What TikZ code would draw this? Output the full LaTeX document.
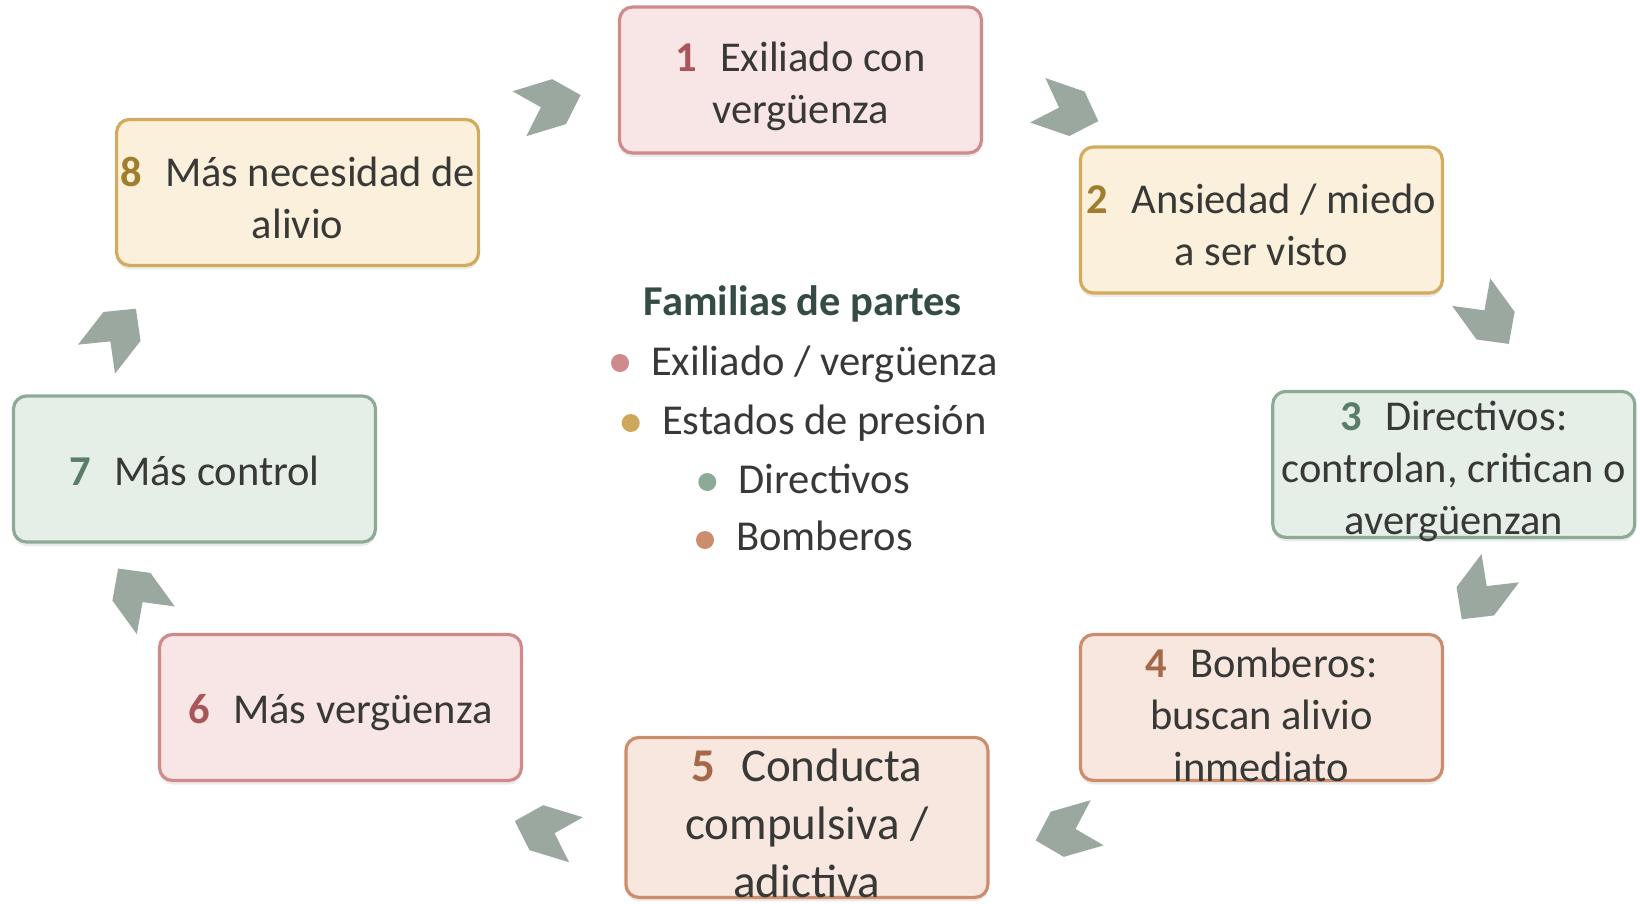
\documentclass[tikz,border=0pt]{standalone}
\usepackage{fontspec}
\setmainfont{Carlito}
\usetikzlibrary{shadows}
\definecolor{pinkF}{HTML}{F8E5E6}
\definecolor{pinkB}{HTML}{D08A8C}
\definecolor{pinkN}{HTML}{A95658}
\definecolor{yelF}{HTML}{FAF0DC}
\definecolor{yelB}{HTML}{D4AB5C}
\definecolor{yelN}{HTML}{A07E2E}
\definecolor{grnF}{HTML}{E5EFE8}
\definecolor{grnB}{HTML}{8DAA96}
\definecolor{grnN}{HTML}{5A7D66}
\definecolor{orgF}{HTML}{F7E7DF}
\definecolor{orgB}{HTML}{CC8D6C}
\definecolor{orgN}{HTML}{A5694A}
\definecolor{arrowC}{HTML}{9AA89F}
\definecolor{txtC}{HTML}{383936}
\definecolor{titleC}{HTML}{354B45}
\definecolor{dotP}{HTML}{D08A8C}
\definecolor{dotY}{HTML}{CDA85A}
\definecolor{dotG}{HTML}{8DAA96}
\definecolor{dotO}{HTML}{CC8D6C}
\newcommand\bnum[2]{{\bfseries\color{#1}#2}\hspace{0.55em}}
\begin{document}
\begin{tikzpicture}[x=1pt,y=-1pt,
  box/.style={rectangle, rounded corners=13pt, line width=3.2pt,
    minimum width=362pt, minimum height=146pt, inner sep=0pt,
    drop shadow={shadow xshift=0pt, shadow yshift=-4pt, opacity=0.08, fill=black}},
  pinkbox/.style={box, draw=pinkB, fill=pinkF},
  yelbox/.style={box, draw=yelB, fill=yelF},
  grnbox/.style={box, draw=grnB, fill=grnF},
  orgbox/.style={box, draw=orgB, fill=orgF},
  txt/.style={align=center, text=txtC, inner sep=0pt, font=\fontsize{42.5}{52}\selectfont},
  bigtxt/.style={align=center, text=txtC, inner sep=0pt, font=\fontsize{47}{58}\selectfont},
  legtxt/.style={text=txtC, inner sep=0pt, anchor=base west, font=\fontsize{42.6}{52}\selectfont},
  legdot/.style={circle, inner sep=0pt, minimum size=18pt},
  chev/.pic={\fill[arrowC] (-32,-23.5) -- (9.5,-23.5) -- (32,0) -- (9.5,23.5) -- (-32,23.5) -- (-9.5,0) -- cycle;}
]
\useasboundingbox (0,0) rectangle (1640,903);

% boxes
\node[pinkbox] (b1) at (800.5,80) {};
\node[yelbox]  (b2) at (1261.4,220) {};
\node[grnbox]  (b3) at (1453.8,464.4) {};
\node[orgbox]  (b4) at (1261.4,707.5) {};
\node[orgbox, minimum height=160pt] (b5) at (806.9,817.4) {};
\node[pinkbox] (b6) at (340.5,707.5) {};
\node[grnbox]  (b7) at (194.5,469) {};
\node[yelbox]  (b8) at (297.6,192.4) {};

% texts
\node[txt] (t1) at ([yshift=-6pt]b1.center) {\bnum{pinkN}{1}Exiliado con\\vergüenza};
\node[txt] (t2) at ([yshift=-5pt]b2.center) {\bnum{yelN}{2}Ansiedad / miedo\\a ser visto};
\node[txt] (t3) at ([yshift=-7pt]b3.center) {\bnum{grnN}{3}Directivos:\\controlan, critican o\\avergüenzan};
\node[txt] (t4) at ([yshift=-7pt]b4.center) {\bnum{orgN}{4}Bomberos:\\buscan alivio\\inmediato};
\node[bigtxt] (t5) at ([yshift=-6pt]b5.center) {\bnum{orgN}{5}Conducta\\compulsiva /\\adictiva};
\node[txt] (t6) at ([yshift=-5pt]b6.center) {\bnum{pinkN}{6}Más vergüenza};
\node[txt] (t7) at ([yshift=-2pt]b7.center) {\bnum{grnN}{7}Más control};
\node[txt] (t8) at ([yshift=-5pt]b8.center) {\bnum{yelN}{8}Más necesidad de\\alivio};

% chevrons
\pic[rotate=17]   at (550,104.4)   {chev};
\pic[rotate=-19]  at (1068,110.7)  {chev};
\pic[rotate=-54]  at (1490,318)    {chev};
\pic[rotate=-127] at (1481,593.7)  {chev};
\pic[rotate=-164] at (1066.4,831.6) {chev};
\pic[rotate=163]  at (545.4,830.4) {chev};
\pic[rotate=126]  at (137,594.4)   {chev};
\pic[rotate=52]   at (116.2,333.9) {chev};

% legend
\node[inner sep=0pt, anchor=base, text=titleC, font=\fontsize{42.5}{52}\selectfont\bfseries] (title) at (802.8,315.5) {Familias de partes};
\node[legdot, fill=dotP] (d1) at (620,363) {};
\node[legtxt] (l1) at (651,375) {Exiliado / vergüenza};
\node[legdot, fill=dotY] (d2) at (630.7,423) {};
\node[legtxt] (l2) at (662,434.5) {Estados de presión};
\node[legdot, fill=dotG] (d3) at (707.3,482) {};
\node[legtxt] (l3) at (738.5,493.2) {Directivos};
\node[legdot, fill=dotO] (d4) at (705,540) {};
\node[legtxt] (l4) at (736,550) {Bomberos};
\end{tikzpicture}
\end{document}
